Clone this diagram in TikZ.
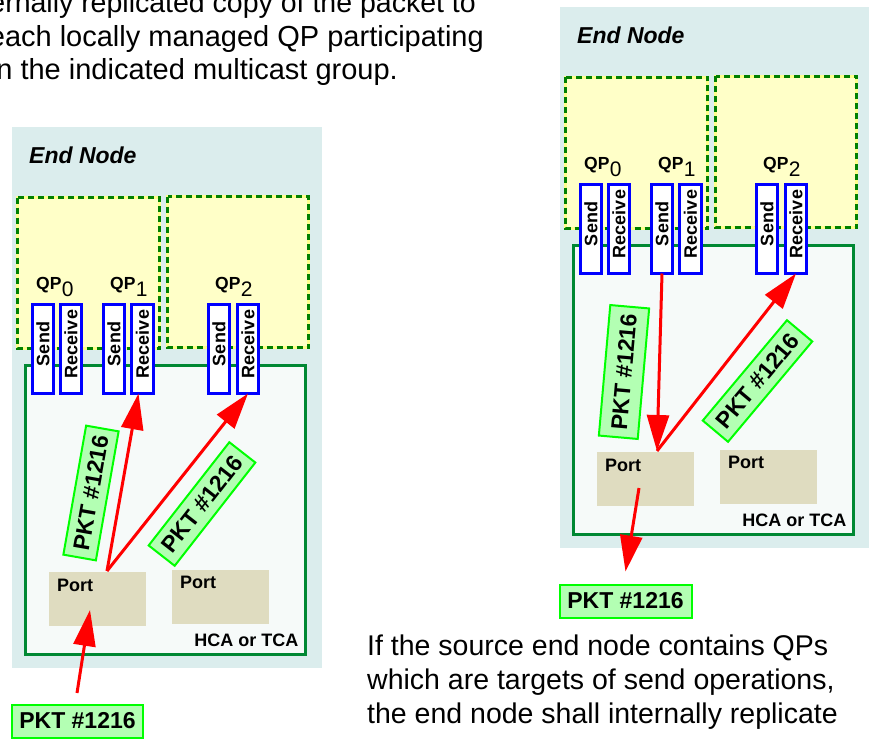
\documentclass[tikz,border=0pt]{standalone}
\usepackage{fontspec}
\setmainfont{Liberation Sans}
\usetikzlibrary{arrows.meta}
\definecolor{nodebg}{RGB}{219,237,237}
\definecolor{qpfill}{RGB}{255,255,200}
\definecolor{qpedge}{RGB}{255,255,140}
\definecolor{dashgreen}{RGB}{0,128,0}
\definecolor{hcafill}{RGB}{246,250,249}
\definecolor{hcaedge}{RGB}{0,136,51}
\definecolor{portfill}{RGB}{223,220,192}
\definecolor{pktfill}{RGB}{179,255,179}
\definecolor{pktedge}{RGB}{0,255,0}
\tikzset{
  box/.style={rectangle, inner sep=0pt, outer sep=0pt, anchor=north west},
  endbox/.style={box, fill=nodebg},
  qparea/.style={box, fill=qpfill, draw=qpedge, line width=3pt},
  qpdash/.style={draw=dashgreen, line width=2.5pt, dash pattern=on 6pt off 4pt},
  hcabox/.style={box, fill=hcafill, draw=hcaedge, line width=2.5pt},
  qbox/.style={box, fill=white, draw=blue, line width=3pt, minimum width=21pt, minimum height=89pt},
  portbox/.style={box, fill=portfill, minimum width=97pt, minimum height=54pt},
  pkt/.style={rectangle, fill=pktfill, draw=pktedge, line width=2pt, minimum width=131pt, minimum height=33pt, inner sep=0pt, font=\fontsize{23}{27}\selectfont\bfseries},
  lbl/.style={inner sep=0pt, font=\fontsize{18}{21}\selectfont\bfseries},
  titlelbl/.style={inner sep=0pt, anchor=base west, font=\fontsize{23}{27}\selectfont\bfseries\itshape},
  qplbl/.style={inner sep=0pt, anchor=base west},
  body/.style={inner sep=0pt, font=\fontsize{28.5}{34}\selectfont},
  bodytop/.style={inner sep=0pt, font=\fontsize{29}{34}\selectfont},
  redarrow/.style={draw=red, line width=3pt, -{Triangle[length=36pt,width=22pt]}},
}
\newcommand{\qplabel}[1]{{\fontsize{17.5}{20}\selectfont\bfseries QP}\kern0.5pt\raisebox{-7pt}{\fontsize{21}{23}\selectfont #1}}
\newcommand{\drawendnode}[2]{%
\begin{scope}[shift={#1}]
  \node[endbox, minimum width=310pt, minimum height=541pt] (#2end) at (12,127) {};
  \node[qparea, minimum width=142pt, minimum height=151pt] (#2qa) at (17.5,197.5) {};
  \node[qparea, minimum width=141pt, minimum height=151pt] (#2qb) at (167.5,196.5) {};
  \draw[qpdash] (#2qa.north west) rectangle (#2qa.south east);
  \draw[qpdash] (#2qb.north west) rectangle (#2qb.south east);
  \node[hcabox, minimum width=280pt, minimum height=289pt] (#2hca) at (25.5,365.5) {};
  \node[portbox] (#2p0) at (49,572) {};
  \node[portbox] (#2p1) at (172,570) {};
  \node[qbox] (#2s0) at (32.5,304.5) {};
  \node[qbox] (#2r0) at (60.5,304.5) {};
  \node[qbox] (#2s1) at (103.5,304.5) {};
  \node[qbox, minimum width=22pt] (#2r1) at (131.5,304.5) {};
  \node[qbox] (#2s2) at (208.5,304.5) {};
  \node[qbox] (#2r2) at (237.5,304.5) {};
  \node[lbl, rotate=90] (#2s0t) at ([yshift=5pt]#2s0.center) {Send};
  \node[lbl, rotate=90] (#2r0t) at ([yshift=5pt]#2r0.center) {Receive};
  \node[lbl, rotate=90] (#2s1t) at ([yshift=5pt]#2s1.center) {Send};
  \node[lbl, rotate=90] (#2r1t) at ([yshift=5pt]#2r1.center) {Receive};
  \node[lbl, rotate=90] (#2s2t) at ([yshift=5pt]#2s2.center) {Send};
  \node[lbl, rotate=90] (#2r2t) at ([yshift=5pt]#2r2.center) {Receive};
  \node[titlelbl] (#2title) at (29,164) {End Node};
  \node[qplbl] (#2qp0) at (36,289) {\qplabel{0}};
  \node[qplbl] (#2qp1) at (110,289) {\qplabel{1}};
  \node[qplbl] (#2qp2) at (215,289) {\qplabel{2}};
  \node[lbl, anchor=base west] (#2p0t) at ([shift={(8,19)}]#2p0.north west) {Port};
  \node[lbl, anchor=base west] (#2p1t) at ([shift={(8,18)}]#2p1.north west) {Port};
  \node[lbl, anchor=base east] (#2hcat) at ([shift={(-7,-8)}]#2hca.south east) {HCA or TCA};
\end{scope}}
\begin{document}
\begin{tikzpicture}[x=1pt,y=-1pt]
\useasboundingbox (0,0) rectangle (869,738);
\fill[white] (0,0) rectangle (869,738);
% top-left paragraph (clipped by the page)
\node[body, anchor=base east] (t1) at (476,13) {internally replicated copy of the packet to};
\node[bodytop, anchor=base east] (t2) at (484,47) {each locally managed QP participating};
\node[bodytop, anchor=base east] (t3) at (398,80) {in the indicated multicast group.};
% bottom-right paragraph
\node[body, anchor=base west] (b1) at (367,655) {If the source end node contains QPs};
\node[body, anchor=base west] (b2) at (367,689) {which are targets of send operations,};
\node[body, anchor=base west] (b3) at (367,723) {the end node shall internally replicate};
% the two end nodes
\drawendnode{(0,0)}{L}
\drawendnode{(548,-120)}{R}
% left: incoming packet
\node[pkt] (Lin) at (77.5,721) {PKT \#1216};
\coordinate (Lsrc) at (77,693);
\draw[redarrow] (Lsrc) -- ([shift={(-7.5,11)}]Lp0.center);
\coordinate (Lsplit) at ([shift={(58,-1)}]Lp0.north west);
\draw[redarrow] (Lsplit) -- ([xshift=-4pt]Lr1.south);
\draw[redarrow] (Lsplit) -- (Lr2.south);
\node[pkt, rotate=80] (Lpk1) at (91,493) {PKT \#1216};
\node[pkt, rotate=52] (Lpk2) at (202,504) {PKT \#1216};
% right: outgoing packet
\node[pkt, minimum width=132pt] (Rout) at (625.5,601) {PKT \#1216};
\coordinate (Rsplit) at ([shift={(60,-1)}]Rp0.north west);
\draw[redarrow] (Rs1.south) -- (Rsplit);
\draw[redarrow] (Rsplit) -- (Rr2.south);
\coordinate (Rsrc) at ([shift={(-6.5,9)}]Rp0.center);
\draw[redarrow] (Rsrc) -- ([yshift=12pt]Rout.north);
\node[pkt, rotate=85, minimum height=39pt] (Rpk1) at (624,372) {PKT \#1216};
\node[pkt, rotate=50] (Rpk2) at (757.5,381) {PKT \#1216};
\end{tikzpicture}
\end{document}
